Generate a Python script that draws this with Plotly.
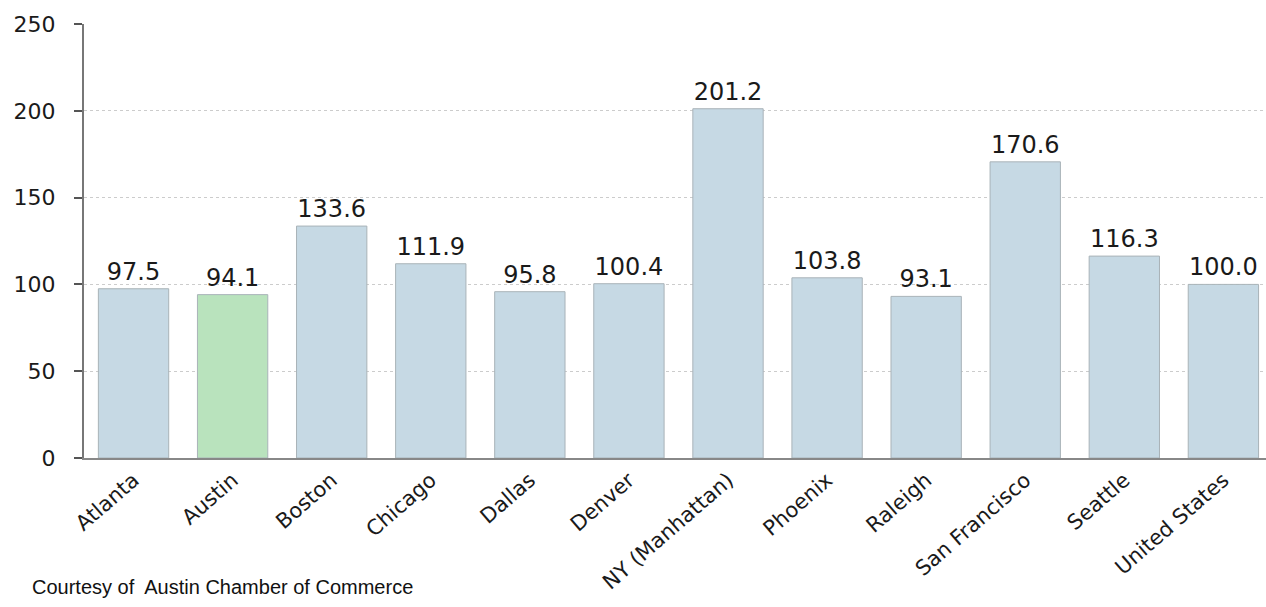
import plotly.graph_objects as go

cities = ["Atlanta", "Austin", "Boston", "Chicago", "Dallas", "Denver",
          "NY (Manhattan)", "Phoenix", "Raleigh", "San Francisco", "Seattle", "United States"]
values = [97.5, 94.1, 133.6, 111.9, 95.8, 100.4, 201.2, 103.8, 93.1, 170.6, 116.3, 100.0]
labels = ["97.5", "94.1", "133.6", "111.9", "95.8", "100.4", "201.2", "103.8", "93.1", "170.6", "116.3", "100.0"]
y_ticks = [0, 50, 100, 150, 200, 250]

colors = ["#b9e3bd" if c == "Austin" else "#c6d9e4" for c in cities]

fig = go.Figure(go.Bar(
    x=cities, y=values, text=labels, textposition="outside",
    marker=dict(color=colors, line=dict(color="#a9b3b8", width=1)),
    textfont=dict(family="DejaVu Sans", size=24, color="#1a1a1a"),
    cliponaxis=False,
))

fig.update_layout(
    width=1266, height=607,
    margin=dict(l=84, r=0, t=24, b=149),
    plot_bgcolor="white", paper_bgcolor="white",
    bargap=0.29,
    showlegend=False,
    annotations=[dict(text="Courtesy of  Austin Chamber of Commerce", xref="paper", yref="paper",
                      x=-0.046, y=-0.297, xanchor="left", yanchor="middle", showarrow=False,
                      font=dict(family="Liberation Sans", size=20, color="#111"))],
)
fig.update_xaxes(
    range=[-0.5, 11.43], tickangle=-41, automargin=False,
    tickfont=dict(family="DejaVu Sans", size=21, color="#1a1a1a"),
    showline=True, linecolor="#888", linewidth=1.5, ticks="", showgrid=False,
)
fig.update_yaxes(
    range=[0, 250], tickvals=y_ticks, automargin=False,
    tickfont=dict(family="DejaVu Sans", size=22, color="#1a1a1a"),
    showline=True, linecolor="#777", linewidth=2,
    ticks="outside", ticklen=8, tickcolor="#555", tickwidth=2,
    showgrid=True, gridcolor="#cccccc", griddash="dot", gridwidth=1,
    zeroline=False, ticklabelstandoff=14,
)

fig.write_html("out.html", config={"displayModeBar": False},
               post_script="document.body.style.margin='0';document.body.style.overflow='hidden';")
